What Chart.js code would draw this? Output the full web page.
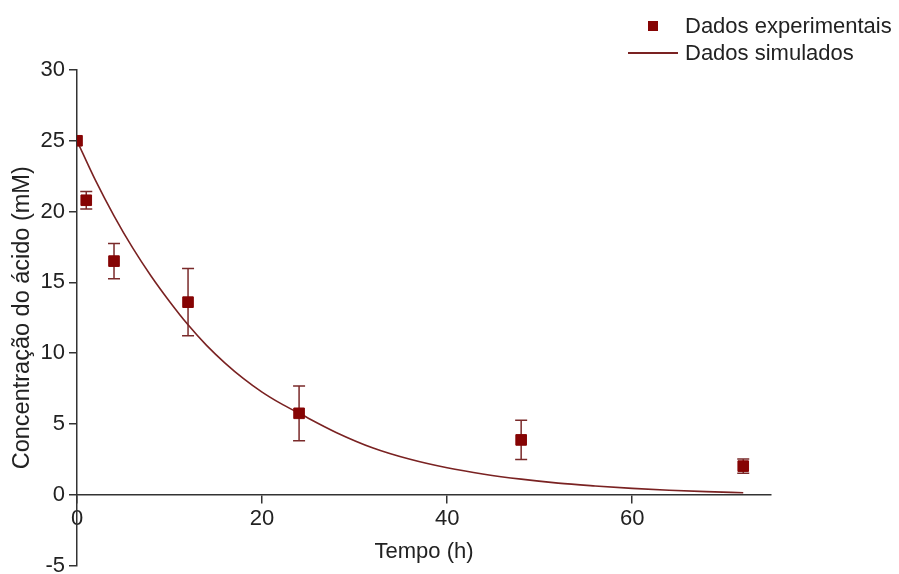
<!DOCTYPE html>
<html>
<head>
<meta charset="utf-8">
<script src="https://cdn.jsdelivr.net/npm/chart.js@4"></script>
<style>
    body { margin: 0; background: #fff; }
    #wrap { position: relative; width: 899px; height: 574px; }
    #legend { position: absolute; left: 624px; top: 12px; font: 22px Arial, 'Liberation Sans', sans-serif; color: #222; }
    .item { display: flex; align-items: center; height: 27px; }
    .swatch { width: 58px; height: 27px; display: flex; align-items: center; justify-content: center; }
    .item > .label { margin-left: 3px; }
</style>
</head>
<body>
<div id="wrap">
    <canvas id="kineticsChart" width="899" height="574"></canvas>
    <div id="legend"></div>
</div>
<script>
// experimental points (time in h, concentration in mM, +/- error)
const expTime = [0, 1, 4, 12, 24, 48, 72];
const expConc = [25, 20.8, 16.5, 13.6, 5.75, 3.87, 2.02];
const expError = [0, 0.62, 1.25, 2.37, 1.93, 1.39, 0.5];

// simulated curve
const simTime = [0, 2, 4, 6, 8, 10, 12, 14, 16, 18, 20, 22, 24, 28, 32, 36, 40, 44, 48, 52, 56, 60, 64, 68, 72];
const simConc = [25, 22.2, 19.7, 17.45, 15.45, 13.65, 12.0, 10.55, 9.3, 8.2, 7.25, 6.45, 5.75, 4.4, 3.3, 2.5, 1.9, 1.45, 1.1, 0.82, 0.62, 0.45, 0.32, 0.22, 0.14];

const xTicks = [0, 20, 40, 60];
const yTicks = [-5, 0, 5, 10, 15, 20, 25, 30];

const pointColor = '#860404';
const lineColor = '#7a2222';
const axisColor = '#333';

Chart.defaults.font.family = "Arial, 'Liberation Sans', sans-serif";
Chart.defaults.font.size = 22;
Chart.defaults.color = '#222';

// vertical error bars, drawn under the markers
const errorBars = {
    id: 'errorBars',
    beforeDatasetsDraw(chart) {
        const { ctx, scales: { x, y } } = chart;
        ctx.save();
        ctx.strokeStyle = '#7a2a2a';
        ctx.lineWidth = 1.5;
        expTime.forEach((t, i) => {
            if (!expError[i]) return;
            const px = x.getPixelForValue(t);
            const top = y.getPixelForValue(expConc[i] + expError[i]);
            const bottom = y.getPixelForValue(expConc[i] - expError[i]);
            ctx.beginPath();
            ctx.moveTo(px, top);
            ctx.lineTo(px, bottom);
            ctx.moveTo(px - 6, top);
            ctx.lineTo(px + 6, top);
            ctx.moveTo(px - 6, bottom);
            ctx.lineTo(px + 6, bottom);
            ctx.stroke();
        });
        ctx.restore();
    }
};

const chart = new Chart(document.getElementById('kineticsChart'), {
    type: 'scatter',
    data: {
        datasets: [
            {
                label: 'Dados experimentais',
                data: expTime.map((t, i) => ({ x: t, y: expConc[i] })),
                backgroundColor: pointColor,
                borderColor: pointColor,
                pointStyle: 'rect',
                pointRadius: 7.5,
                pointHoverRadius: 7.5,
                showLine: false
            },
            {
                label: 'Dados simulados',
                type: 'line',
                data: simTime.map((t, i) => ({ x: t, y: simConc[i] })),
                borderColor: lineColor,
                borderWidth: 1.6,
                pointRadius: 0,
                fill: false,
                cubicInterpolationMode: 'monotone'
            }
        ]
    },
    options: {
        responsive: false,
        animation: false,
        layout: { padding: { top: 70, right: 128, bottom: 6, left: 0 } },
        plugins: {
            legend: { display: false },
            tooltip: { enabled: false }
        },
        scales: {
            x: {
                type: 'linear',
                position: { y: 0 },
                min: 0,
                max: 75,
                afterBuildTicks: scale => { scale.ticks = xTicks.map(v => ({ value: v })); },
                ticks: { padding: 3, color: '#222' },
                grid: { drawOnChartArea: false, drawTicks: true, tickLength: 8, color: axisColor, lineWidth: 1.5 },
                border: { display: true, color: axisColor, width: 1.5 },
                title: { display: true, text: 'Tempo (h)', color: '#222', padding: 4 }
            },
            y: {
                type: 'linear',
                position: 'left',
                min: -5,
                max: 30,
                afterBuildTicks: scale => { scale.ticks = yTicks.map(v => ({ value: v })); },
                afterFit: scale => { scale.width = 77; scale.paddingBottom = 0; },
                ticks: { padding: 4, color: '#222' },
                grid: { drawOnChartArea: false, drawTicks: true, tickLength: 8, color: axisColor, lineWidth: 1.5 },
                border: { display: true, color: axisColor, width: 1.5 },
                title: { display: true, text: 'Concentração do ácido (mM)', color: '#222', font: { size: 23.5 }, padding: { top: 8, bottom: 4 } }
            }
        }
    },
    plugins: [errorBars]
});

// html legend built from the datasets
const legendBox = document.getElementById('legend');
chart.data.datasets.forEach(ds => {
    const item = document.createElement('div');
    item.className = 'item';
    const swatch = document.createElement('span');
    swatch.className = 'swatch';
    const mark = document.createElement('span');
    if (ds.showLine === false) {
        mark.style.cssText = `width:10px;height:10px;background:${ds.backgroundColor}`;
    } else {
        mark.style.cssText = `width:50px;height:2px;background:${ds.borderColor}`;
    }
    swatch.appendChild(mark);
    const text = document.createElement('span');
    text.className = 'label';
    text.textContent = ds.label;
    item.appendChild(swatch);
    item.appendChild(text);
    legendBox.appendChild(item);
});
</script>
</body>
</html>
